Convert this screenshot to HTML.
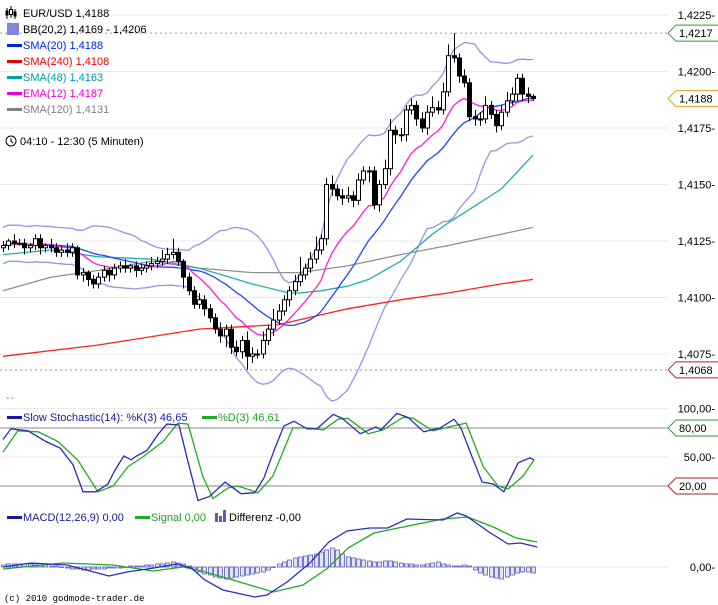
<!DOCTYPE html>
<html><head><meta charset="utf-8">
<style>
html,body{margin:0;padding:0;background:#fff;}
svg{display:block;font-family:"Liberation Sans",sans-serif;}
</style></head>
<body>
<svg id="c" width="718" height="605" viewBox="0 0 718 605" xmlns="http://www.w3.org/2000/svg"></svg>
<script>
// ---------- data ----------
const closes=[1.4123,1.4125,1.4124,1.4124,1.4122,1.4123,1.4126,1.4122,1.4123,1.4122,
1.4120,1.4121,1.4120,1.4122,1.4110,1.4111,1.4108,1.4106,1.4109,1.4112,
1.4110,1.4113,1.4114,1.4113,1.4114,1.4112,1.4113,1.4114,1.4115,1.4116,
1.4117,1.4119,1.4120,1.4116,1.4109,1.4103,1.4097,1.4099,1.4095,1.4091,
1.4086,1.4083,1.4086,1.4078,1.4076,1.4081,1.4074,1.4075,1.4075,1.4081,
1.4086,1.4090,1.4094,1.4099,1.4103,1.4107,1.4110,1.4113,1.4117,1.4121,
1.4126,1.4150,1.4148,1.4145,1.4144,1.4145,1.4143,1.4152,1.4156,1.4156,
1.4141,1.4150,1.4157,1.4174,1.4172,1.4172,1.4183,1.4185,1.4179,1.4175,
1.4182,1.4184,1.4183,1.4191,1.4207,1.4206,1.4198,1.4195,1.4180,1.4179,
1.4179,1.4185,1.4181,1.4176,1.4182,1.4187,1.4190,1.4197,1.4190,1.4189,1.4188];
const firstOpen=1.4122;
const upperWickPips=[2,1,3,2,2,1,2,2,1,3,2,2,3,2,1,2,1,2,2,2,1,2,2,3,1,2,2,2,3,2,4,3,6,2,1,2,2,3,2,2,2,3,2,2,3,2,4,3,2,4,2,5,3,2,2,3,8,2,3,6,2,3,4,2,3,4,2,3,2,2,2,2,4,5,2,3,2,3,2,3,3,5,3,4,5,10,2,3,2,3,3,4,2,2,3,4,3,2,2,3,1];
const lowerWickPips=[2,2,2,1,3,2,2,3,2,2,2,2,2,2,2,3,3,2,2,2,3,2,2,2,2,3,2,2,2,2,2,2,2,2,5,2,2,2,3,2,2,3,5,3,2,3,6,3,2,2,2,3,2,2,3,2,2,2,2,2,2,3,3,2,3,2,3,2,2,5,2,3,2,3,4,3,3,2,3,2,3,2,2,2,2,2,3,2,2,3,3,2,2,3,2,2,2,3,3,3,1];
const sma48Idx=[0,9,18,28,37,47,54,56,60,65,69,75,81,84,88,94,100];
const sma48Val=[1.4119,1.4121,1.4118,1.4117,1.4113,1.4106,1.4102,1.4102,1.4103,1.4105,1.4108,1.4116,1.4128,1.4133,1.4139,1.4148,1.4163];
const sma120Idx=[0,9,18,28,37,47,56,65,75,84,94,100];
const sma120Val=[1.4103,1.4109,1.4112,1.4116,1.4113,1.4111,1.4111,1.4114,1.4119,1.4123,1.4128,1.4131];
const sma240Idx=[0,18,37,52,65,75,84,94,100];
const sma240Val=[1.4074,1.4079,1.4086,1.4088,1.4095,1.4099,1.4102,1.4106,1.4108];
const kIdx=[0,1.5,4.7,8.1,10.8,13.2,15.1,17.5,19.8,21.1,22.8,24.2,24.9,27.2,29.2,30.9,33.2,34.9,36.8,38.9,41.9,44.9,47.5,49.2,51.3,53,54.9,57.4,59.2,62.3,64,67.4,68.7,70.4,71.3,74.3,76.4,79.4,82.5,85.1,86.4,88.5,90.4,92.5,94.5,97.2,99.4,100.2];
const kVal=[68,79,77,66,59,42,14,14,22,36,51,47,50,57,73,84,83,45,5,9,24,12,13,28,59,82,87,79,79,94,90,74,77,81,78,95,91,76,80,89,80,50,24,22,14,44,49,47];
const dIdx=[0,2.8,6.6,10.4,14.2,17.9,20.8,23.6,26.4,30.2,33,34.9,37.7,39.6,42.5,44.3,48.1,50.9,54.7,57.5,60.4,63.2,65.1,68.9,71.7,75.5,77.4,81.1,84.9,87.4,90.6,93.4,95.3,98.1,100.2];
const dVal=[55,77,76,66,46,14,20,40,50,66,85,84,30,7,18,20,13,30,80,80,78,89,90,74,78,91,90,77,82,85,40,20,17,30,47];
const macdIdx=[0,5.3,12.1,15.7,20,23.4,28.5,32.8,35.5,38.1,41.5,47.5,49.8,53.6,57.9,61.5,64.9,69.2,72.6,76.2,83,85.7,87.4,91.7,95.3,97.7,100.8];
const macdVal=[0,0.4,0.2,-0.3,-0.9,-0.5,-0.1,0.3,-0.1,-1.3,-2.3,-3.0,-2.8,-1.5,0.4,2.5,3.6,3.9,3.9,4.8,4.7,5.4,5.1,3.5,2.3,2.4,2.0];
const sigIdx=[0,11.3,20.8,28.3,34,38.1,43.4,51,56.6,61.3,65.1,70,75.5,83,87.7,92.5,96.8,100.8];
const sigVal=[-0.2,0.4,0.2,-0.4,0,-0.5,-1.3,-2.5,-1.8,-0.1,1.9,3.4,4.0,4.8,5.0,4.0,2.9,2.5];
const histVal=[0.2,0.3,0.3,0.3,0.3,0.3,0.3,0.2,0.2,0.1,0.1,0.0,
-0.1,-0.2,-0.2,-0.3,-0.3,-0.2,-0.2,-0.2,-0.1,-0.1,-0.1,0.0,0.1,0.1,0.1,0.2,0.2,0.3,
0.3,0.4,0.5,0.4,0.3,0.1,
-0.2,-0.5,-0.7,-0.8,-1.0,-1.1,-1.2,-1.1,-1.0,-0.9,-0.8,-0.7,-0.6,-0.5,-0.3,
0.0,0.3,0.5,0.7,0.9,1.0,1.1,1.2,1.3,1.5,1.7,1.9,1.7,
1.3,1.0,0.9,0.8,0.7,0.6,0.5,0.5,0.6,0.6,0.5,0.4,0.3,0.3,0.2,0.2,0.3,0.4,0.5,
0.3,0.2,0.1,0.1,0.2,0.1,
-0.3,-0.6,-0.8,-1.0,-1.1,-1.2,-1.0,-0.8,-0.6,-0.5,-0.5,-0.6];
const priceTicks=[1.4225,1.4200,1.4175,1.4150,1.4125,1.4100,1.4075];
const priceTickLabels=["1,4225","1,4200","1,4175","1,4150","1,4125","1,4100","1,4075"];

// ---------- scales ----------
const NS="http://www.w3.org/2000/svg";
const svg=document.getElementById('c');
const xI=i=>3+i*5.3;
const yP=p=>15+(1.4225-p)/0.0025*56.5;
const yS=v=>505.3-v*0.967;
const yM=v=>567-v*10;
const PIP=0.0001;
function mk(tag,attrs,parent){const e=document.createElementNS(NS,tag);for(const k in attrs)e.setAttribute(k,attrs[k]);(parent||svg).appendChild(e);return e;}
function txt(s,x,y,fill,size,parent,anchor){const t=mk('text',{x:x,y:y,fill:fill,'font-size':size||11,'text-anchor':anchor||'start'},parent);t.textContent=s;return t;}
function pathFrom(xs,ys){return xs.map((x,k)=>(k?'L':'M')+x.toFixed(1)+' '+ys[k].toFixed(1)).join('');}

// ---------- grid & axis ----------
const grid=mk('g',{});


priceTicks.forEach((p,k)=>{
  mk('line',{x1:0,x2:668,y1:yP(p),y2:yP(p),stroke:'#e8e8e8','stroke-width':1},grid);
  const t=txt(priceTickLabels[k]+'-',715,yP(p)+4,'#000',11,grid,'end');
  
  
});
// dashed hi/lo
[[1.4217,'high-dashed-line'],[1.4068,'low-dashed-line']].forEach(a=>{
  const l=mk('line',{x1:0,x2:668,y1:yP(a[0]),y2:yP(a[0]),stroke:'#999','stroke-dasharray':'2,3','stroke-width':1});
  
  
});
function tag(val,label,col,name,yy){
  const y=yy!==undefined?yy:yP(val);
  const g=mk('g',{});
  
  
  mk('path',{d:`M668 ${y}L676 ${y-8}H718 M668 ${y}L676 ${y+8}H718`,fill:'none',stroke:col,'stroke-width':1},g);
  txt(label,679,y+4,'#000',11,g);
}
tag(1.4217,'1,4217','#2a9a2a','high-price-tag');
tag(1.4188,'1,4188','#e0a020','last-price-tag');
tag(1.4068,'1,4068','#b02020','low-price-tag');

// ---------- overlays ----------
const N=closes.length;
const opens=closes.map((c,i)=>i?closes[i-1]:firstOpen);
// SMA20 & BB
const sma20=[],bbU=[],bbL=[];
for(let i=0;i<N;i++){const s=Math.max(0,i-19);const w=closes.slice(s,i+1);const m=w.reduce((a,b)=>a+b,0)/w.length;const sd=Math.sqrt(w.reduce((a,b)=>a+(b-m)*(b-m),0)/w.length);sma20.push(m);bbU.push(m+2*Math.max(sd,0.0004));bbL.push(m-2*Math.max(sd,0.0004));}
const ema12=[];closes.forEach((c,i)=>ema12.push(i?ema12[i-1]+(c-ema12[i-1])*2/13:c));
const clip=mk('clipPath',{id:'mainclip'});mk('rect',{x:0,y:0,width:540,height:405},clip);
const ov=mk('g',{'clip-path':'url(#mainclip)'});
function line(idx,vals,ys,col,w,name,parent){const p=mk('path',{d:pathFrom(idx.map(xI),vals.map(ys)),fill:'none',stroke:col,'stroke-width':w},parent||ov);return p;}
const allIdx=closes.map((c,i)=>i);
line(allIdx,bbU,yP,'#9494e6',1.3,'bollinger-upper');
line(allIdx,bbL,yP,'#9494e6',1.3,'bollinger-lower');
line(sma240Idx,sma240Val,yP,'#ff2020',1.3,'sma240-line');
line(sma120Idx,sma120Val,yP,'#909090',1.3,'sma120-line');
line(sma48Idx,sma48Val,yP,'#20b0b0',1.3,'sma48-line');
line(allIdx,sma20,yP,'#2244ff',1.3,'sma20-line');
line(allIdx,ema12,yP,'#ff20d0',1.3,'ema12-line');

// ---------- candles ----------
const cg=mk('g',{});


for(let i=0;i<N;i++){
  const o=opens[i],c=closes[i];const hi=Math.max(o,c)+upperWickPips[i]*PIP,lo=Math.min(o,c)-lowerWickPips[i]*PIP;
  const x=Math.round(xI(i))+0.5;
  const g=mk('g',{},cg);
  
  
  mk('line',{x1:x,x2:x,y1:yP(hi),y2:yP(lo),stroke:'#000','stroke-width':1},g);
  const top=yP(Math.max(o,c)),bot=yP(Math.min(o,c));
  mk('rect',{x:x-2,y:top,width:4,height:Math.max(1,bot-top),fill:c>o?'#fff':'#000',stroke:'#000','stroke-width':1},g);
}

// ---------- legend ----------
const lg=mk('g',{});


// candle icon
mk('path',{d:'M7 8V19M11 6V18M15 9V19',stroke:'#000','stroke-width':1},lg);
mk('rect',{x:5.5,y:10.5,width:3,height:5,fill:'#000'},lg);mk('rect',{x:9.5,y:9.5,width:3,height:5,fill:'#fff',stroke:'#000'},lg);mk('rect',{x:13.5,y:11.5,width:3,height:5,fill:'#000'},lg);
txt('EUR/USD 1,4188',23,17,'#000',11,lg);
mk('rect',{x:7,y:23,width:12,height:12,fill:'#8484e0'},lg);
txt('BB(20,2) 1,4169 - 1,4206',23,33,'#000',11,lg);
[['SMA(20) 1,4188','#0022ee',49],['SMA(240) 1,4108','#ee0000',65],['SMA(48) 1,4163','#00a0a0',81],['EMA(12) 1,4187','#ee00dd',97],['SMA(120) 1,4131','#808080',113]].forEach(a=>{
  const g=mk('g',{},lg);
  
  
  mk('rect',{x:7,y:a[2]-5,width:15,height:3,fill:a[1]},g);
  txt(a[0],23,a[2],a[1],11,g);
});
// time label with clock
const tg=mk('g',{});


mk('circle',{cx:11,cy:141,r:5,fill:'none',stroke:'#000'},tg);
mk('path',{d:'M11 138V141L13 143',fill:'none',stroke:'#000'},tg);
txt('04:10 - 12:30 (5 Minuten)',20,145,'#000',11,tg);
// resize arrow
const ra=txt('↔',4,400,'#aaa',12);



// ---------- stochastic ----------
const sg=mk('g',{});


mk('line',{x1:0,x2:668,y1:yS(100),y2:yS(100),stroke:'#e8e8e8'},sg);
mk('line',{x1:0,x2:668,y1:yS(50),y2:yS(50),stroke:'#e8e8e8'},sg);
mk('line',{x1:0,x2:668,y1:yS(80),y2:yS(80),stroke:'#888'},sg);
mk('line',{x1:0,x2:668,y1:yS(20),y2:yS(20),stroke:'#888'},sg);
txt('100,00-',715,yS(100)+4,'#000',11,sg,'end');
txt('50,00-',715,yS(50)+4,'#000',11,sg,'end');
tag(80,'80,00','#2a9a2a','stoch-80-tag',yS(80));
tag(20,'20,00','#b02020','stoch-20-tag',yS(20));
line(dIdx,dVal.map(v=>Math.min(v,100)),yS,'#22aa22',1.3,'stoch-d-line',sg);
line(kIdx,kVal.map(v=>Math.min(v,100)),yS,'#2a2ab8',1.3,'stoch-k-line',sg);
mk('rect',{x:7,y:416,width:15,height:3,fill:'#1a1aa0'},sg);
txt('Slow Stochastic(14): %K(3) 46,65',23,421,'#1a1aa0',11,sg);
mk('rect',{x:202,y:416,width:15,height:3,fill:'#22aa22'},sg);
txt('%D(3) 46,61',218,421,'#22a022',11,sg);

// ---------- MACD ----------
const mg=mk('g',{});


mk('line',{x1:0,x2:668,y1:yM(0),y2:yM(0),stroke:'#e8e8e8'},mg);
txt('0,00-',715,yM(0)+4,'#000',11,mg,'end');
histVal.forEach((v,i)=>{
  const x=Math.round(xI(i))-1.5;const y0=yM(0),y1=yM(v);
  const r=mk('rect',{x:x,y:Math.min(y0,y1),width:4,height:Math.max(0.5,Math.abs(y1-y0)),fill:'#e4e4f8',stroke:'#5a5ac0','stroke-width':0.8},mg);
  
  
});
line(sigIdx,sigVal,yM,'#22aa22',1.3,'macd-signal-line',mg);
line(macdIdx,macdVal,yM,'#2a2ac8',1.3,'macd-line',mg);
mk('rect',{x:7,y:516,width:15,height:3,fill:'#1a1aa0'},mg);
txt('MACD(12,26,9) 0,00',23,521,'#1a1aa0',11,mg);
mk('rect',{x:135,y:516,width:15,height:3,fill:'#22aa22'},mg);
txt('Signal 0,00',151,521,'#22a022',11,mg);
mk('path',{d:'M215 522V513H218V522M219 522V516H222V522M223 522V510H226V522',fill:'#5a5ac0'},mg);
txt('Differenz -0,00',229,521,'#000',11,mg);

const cp=mk('text',{x:4,y:601,fill:'#000','font-size':9,'font-family':'Liberation Mono, monospace'});
cp.textContent='(c) 2010 godmode-trader.de';


</script>
</body></html>
